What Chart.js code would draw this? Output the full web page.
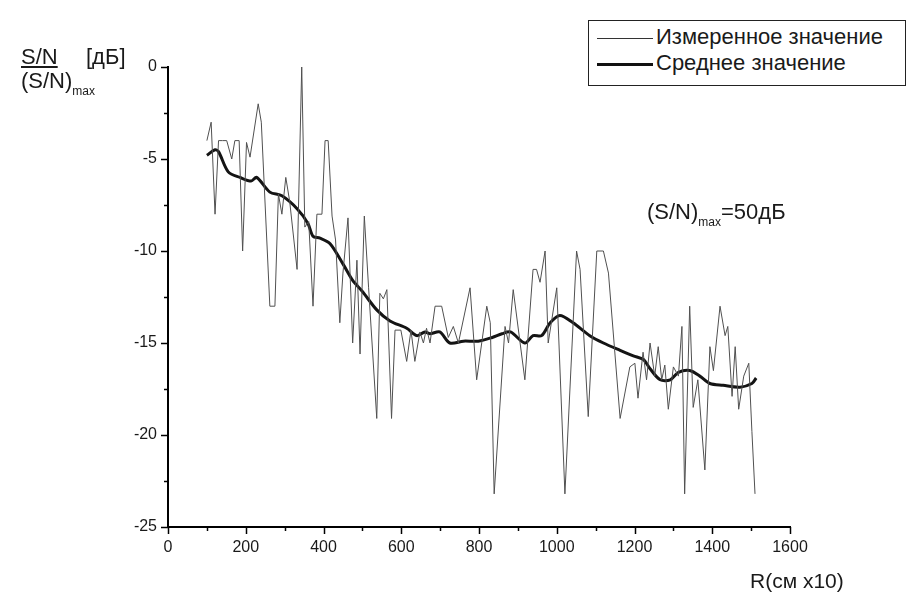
<!DOCTYPE html>
<html><head><meta charset="utf-8">
<script src="https://cdn.jsdelivr.net/npm/chart.js@4"></script>
<style>
html,body{margin:0;padding:0;background:#fff;}
#wrap{position:relative;width:908px;height:594px;font-family:"Liberation Sans",Arial,sans-serif;color:#1a1a1a;}
canvas{position:absolute;left:0;top:0;}
.t{position:absolute;white-space:nowrap;line-height:1;}
.sub{font-size:12px;vertical-align:-7px;}
#legend{position:absolute;left:588px;top:20px;width:316px;height:64px;border:1px solid #222;background:#fff;}
#legend .row{position:absolute;left:8px;height:26px;font-size:22px;line-height:26px;white-space:nowrap;}
#legend .ln{display:inline-block;width:56px;vertical-align:middle;margin-right:3px;}
</style></head>
<body>
<div id="wrap">
<canvas id="c" width="908" height="594"></canvas>
<div class="t" style="left:21px;top:46px;font-size:22px;"><span style="text-decoration:underline;">S/N</span></div>
<div class="t" style="left:86px;top:46px;font-size:22px;">[дБ]</div>
<div class="t" style="left:21px;top:70px;font-size:22px;">(S/N)<span class="sub">max</span></div>
<div class="t" style="left:647px;top:201px;font-size:22px;">(S/N)<span class="sub">max</span>=50дБ</div>
<div class="t" style="left:750px;top:570px;font-size:21px;">R(см x10)</div>
<div id="legend">
  <div class="row" style="top:3px;"><span class="ln" style="border-top:1px solid #333;"></span>Измеренное значение</div>
  <div class="row" style="top:29px;"><span class="ln" style="border-top:3px solid #111;"></span>Среднее значение</div>
</div>
</div>
<script>
// Distance R (см x10) and measured S/N values (dB)
const measuredR = [100,111,121,130,140,151,164,172,183,192,202,211,232,240,262,275,284,293,303,313,332,344,352,362,373,383,396,404,412,422,431,442,450,463,475,486,494,505,516,537,545,554,563,575,584,599,614,625,635,648,657,665,674,687,704,721,734,747,777,794,820,829,839,867,876,888,918,939,948,957,970,978,1000,1021,1051,1060,1081,1103,1120,1133,1163,1188,1201,1209,1222,1231,1240,1252,1261,1270,1278,1287,1300,1313,1322,1329,1342,1351,1363,1381,1394,1403,1420,1433,1440,1451,1459,1468,1481,1494,1502,1510];
const measuredSN = [-4,-3,-8,-4,-4,-4,-5,-4,-4,-10,-4.1,-4.9,-2,-3,-13,-13,-6.9,-8,-6,-7.3,-11,0,-8.7,-8.4,-13,-8,-8,-4,-4,-8.1,-9.4,-13.9,-11.2,-8.2,-15,-10.5,-15.6,-8.1,-12,-19.1,-12.3,-12.6,-12.1,-19.1,-14.3,-14.3,-16,-14.3,-16,-14.4,-15,-14.2,-15,-13,-13,-14.7,-14.1,-15,-12,-17,-13,-13.9,-23.2,-14.1,-15,-12.1,-17,-11,-11,-11.7,-10,-15,-12,-23.2,-10,-11,-19,-10,-10,-11.2,-19.1,-16.3,-16.1,-18,-15.5,-17,-15,-16.8,-15.2,-17,-16.2,-18.6,-16.3,-16.8,-14.1,-23.2,-13,-18.5,-17,-21.9,-15.2,-16.5,-13,-14.6,-14.1,-17.9,-15.2,-18.6,-16.8,-16.1,-19.8,-23.2];
// Mean value curve
const meanR = [100,121,130,155,185,214,228,262,293,332,360,373,391,417,450,475,500,537,571,614,640,661,674,699,725,760,798,834,859,881,918,939,961,983,1008,1042,1085,1120,1163,1197,1223,1240,1266,1292,1313,1342,1368,1394,1428,1471,1502,1513];
const meanSN = [-4.8,-4.5,-4.6,-5.7,-6.0,-6.2,-6.0,-6.8,-7.0,-7.7,-8.5,-9.2,-9.3,-9.6,-10.7,-11.6,-12.2,-13.2,-13.8,-14.2,-14.6,-14.4,-14.5,-14.4,-15.0,-14.9,-14.9,-14.7,-14.5,-14.4,-15.0,-14.6,-14.6,-13.9,-13.5,-13.9,-14.6,-15.0,-15.4,-15.7,-15.9,-16.4,-17.0,-17.0,-16.6,-16.5,-16.8,-17.2,-17.3,-17.4,-17.2,-16.9];
const xTickLabels = [0,200,400,600,800,1000,1200,1400,1600];
const yTickLabels = [0,-5,-10,-15,-20,-25];

const measured = measuredR.map((r,i)=>({x:r,y:measuredSN[i]}));
const mean = meanR.map((r,i)=>({x:r,y:meanSN[i]}));

const tickPlugin = {
  id:'ticksDraw',
  afterDraw(chart){
    const ctx = chart.ctx;
    const xs = chart.scales.x, ys = chart.scales.y;
    ctx.save();
    ctx.strokeStyle = '#000';
    ctx.lineWidth = 1.5;
    for(let v=0; v<=1600; v+=100){
      const px = Math.round(xs.getPixelForValue(v))+0.5;
      const major = xTickLabels.includes(v);
      ctx.beginPath();
      ctx.moveTo(px, ys.bottom);
      ctx.lineTo(px, ys.bottom + (major?7:4));
      ctx.stroke();
    }
    for(let v=0; v>=-25; v-=2.5){
      const py = Math.round(ys.getPixelForValue(v))+0.5;
      const major = yTickLabels.includes(v);
      ctx.beginPath();
      ctx.moveTo(xs.left, py);
      ctx.lineTo(xs.left - (major?7:4), py);
      ctx.stroke();
    }
    ctx.restore();
  }
};

new Chart(document.getElementById('c'), {
  type:'line',
  data:{datasets:[
    {label:'Измеренное значение', data:measured, borderColor:'#505050', borderWidth:1, pointRadius:0, tension:0, fill:false},
    {label:'Среднее значение', data:mean, borderColor:'#141414', borderWidth:3, pointRadius:0, tension:0.3, fill:false}
  ]},
  options:{
    responsive:false, animation:false,
    layout:{padding:{left:0,top:67,right:118,bottom:0}},
    plugins:{legend:{display:false}, tooltip:{enabled:false}},
    scales:{
      x:{type:'linear', min:0, max:1600,
        afterFit(s){ s.height = 67; },
        border:{display:true,color:'#000',width:2},
        grid:{display:true, drawOnChartArea:false, tickLength:7, tickColor:'rgba(0,0,0,0)'},
        ticks:{stepSize:200, color:'#1a1a1a', font:{family:'Liberation Sans', size:16}, padding:4, maxRotation:0,
          callback:(v)=> xTickLabels.includes(v) ? String(v) : ''}
      },
      y:{type:'linear', min:-25, max:0,
        afterFit(s){ s.width = 168; },
        border:{display:true,color:'#000',width:2},
        grid:{display:true, drawOnChartArea:false, tickLength:7, tickColor:'rgba(0,0,0,0)'},
        ticks:{stepSize:5, color:'#1a1a1a', font:{family:'Liberation Sans', size:16}, padding:4,
          callback:(v)=> yTickLabels.includes(v) ? String(v) : ''}
      }
    }
  },
  plugins:[tickPlugin]
});
</script>
</body></html>
